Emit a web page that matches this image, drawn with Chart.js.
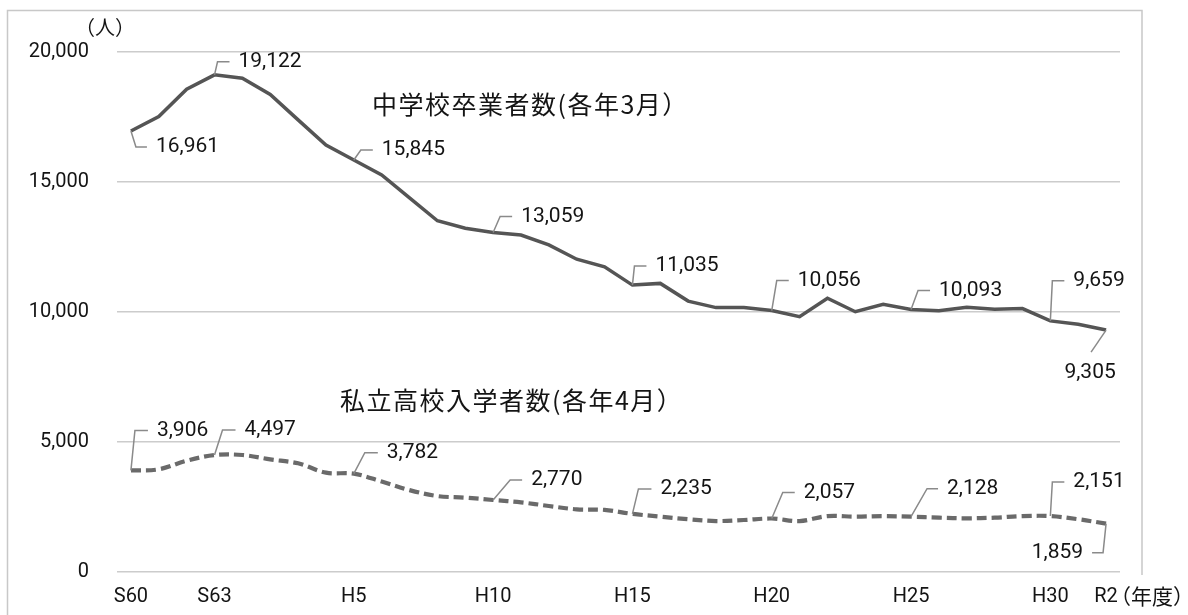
<!DOCTYPE html>
<html><head><meta charset="utf-8">
<script src="https://cdn.jsdelivr.net/npm/chart.js@4.4.0/dist/chart.umd.min.js"></script>
<style>html,body{margin:0;padding:0;background:#fff;}canvas{display:block;}</style>
</head><body>
<canvas id="c" width="1188" height="615" style="width:1188px;height:615px"></canvas>
<script>
// ---- data ----
const years = ['S60','S61','S62','S63','H1','H2','H3','H4','H5','H6','H7','H8','H9','H10',
  'H11','H12','H13','H14','H15','H16','H17','H18','H19','H20','H21','H22','H23','H24','H25',
  'H26','H27','H28','H29','H30','R1','R2'];
const shownTicks = ['S60','S63','H5','H10','H15','H20','H25','H30','R2'];
const labeledYears = ['S60','S63','H5','H10','H15','H20','H25','H30','R2'];
const graduates = [16961,17520,18570,19122,18990,18370,17390,16420,15845,15270,14390,13510,13220,13059,
  12960,12580,12030,11740,11035,11100,10420,10170,10170,10056,9820,10530,10010,10300,10093,
  10050,10180,10110,10130,9659,9530,9305];
const enrollees = [3906,3950,4280,4497,4500,4330,4180,3820,3782,3480,3150,2920,2860,2770,
  2680,2540,2410,2390,2235,2130,2030,1960,2000,2057,1960,2150,2130,2150,2128,
  2090,2065,2090,2150,2151,2030,1859];
const seriesNames = ['中学校卒業者数(各年3月）','私立高校入学者数(各年4月）'];
const yUnit = '（人）';
const xUnit = '（年度）';

// ---- label leader styles (relative offsets) ----
const gradLeaders = [{ex:5,ey:16,h:11},{ex:3,ey:-13,h:12},{ex:7,ey:-10,h:12},{ex:7,ey:-16,h:12},
  {ex:2,ey:-19,h:12},{ex:5,ey:-30,h:12},{ex:7,ey:-19,h:12},{ex:2,ey:-40,h:12},{ex:-15,ey:22,h:0,below:true}];
const enrLeaders = [{ex:4,ey:-40,h:13},{ex:8,ey:-25,h:13},{ex:11,ey:-21,h:13},{ex:17,ey:-20,h:12},
  {ex:6,ey:-25,h:13},{ex:11,ey:-26,h:12},{ex:16,ey:-28,h:11},{ex:2,ey:-34,h:12},{ex:-3,ey:29,h:-11}];

const NUM_FONT = '21px Roboto';
const JP_FONT = '"Noto Sans CJK JP"';
const TEXT_COLOR = '#141414';
const fmt = v => v.toLocaleString('en-US');

const decor = {
  id:'decor',
  beforeDraw(chart){
    const ctx = chart.ctx;
    ctx.save();
    ctx.fillStyle='#fff'; ctx.fillRect(0,0,chart.width,chart.height);
    ctx.strokeStyle='#c8c8c8'; ctx.lineWidth=1.5;
    ctx.beginPath();
    ctx.moveTo(7.5,615); ctx.lineTo(7.5,10.5); ctx.lineTo(1142,10.5); ctx.lineTo(1142,575);
    ctx.stroke();
    ctx.restore();
  },
  afterDatasetsDraw(chart){
    const ctx = chart.ctx;
    ctx.save();
    const drawLabels = (dsIndex, leaders, values) => {
      const meta = chart.getDatasetMeta(dsIndex);
      labeledYears.forEach((yr, k) => {
        const i = years.indexOf(yr);
        const pt = meta.data[i];
        const L = leaders[k];
        const ex = pt.x + L.ex, ey = pt.y + L.ey;
        ctx.strokeStyle = '#8a8a8a'; ctx.lineWidth = 1.5;
        ctx.beginPath();
        ctx.moveTo(pt.x, pt.y); ctx.lineTo(ex, ey); ctx.lineTo(ex + L.h, ey);
        ctx.stroke();
        ctx.fillStyle = TEXT_COLOR; ctx.font = NUM_FONT; ctx.textBaseline = 'middle';
        if (L.below) {
          ctx.textAlign = 'center';
          ctx.fillText(fmt(values[i]), ex - 1, ey + 21);
        } else if (L.h >= 0) {
          ctx.textAlign = 'left';
          ctx.fillText(fmt(values[i]), ex + L.h + 9, ey);
        } else {
          ctx.textAlign = 'right';
          ctx.fillText(fmt(values[i]), ex + L.h - 9, ey);
        }
      });
    };
    drawLabels(0, gradLeaders, graduates);
    drawLabels(1, enrLeaders, enrollees);
    ctx.fillStyle = TEXT_COLOR; ctx.textBaseline = 'middle'; ctx.textAlign = 'left';
    ctx.font = '25px ' + JP_FONT;
    if ('letterSpacing' in ctx) ctx.letterSpacing = '1.5px';
    ctx.fillText(seriesNames[0], 372, 104);
    ctx.fillText(seriesNames[1], 340, 400);
    if ('letterSpacing' in ctx) ctx.letterSpacing = '0px';
    ctx.font = '20px ' + JP_FONT;
    ctx.fillText(yUnit, 75, 27);
    ctx.font = '21px ' + JP_FONT;
    ctx.fillText(xUnit, 1110, 596);
    ctx.restore();
  }
};

new Chart(document.getElementById('c'), {
  type:'line',
  data:{
    labels: years,
    datasets:[
      {label:seriesNames[0], data:graduates, borderColor:'#555555', borderWidth:3.5,
       pointRadius:0, tension:0, fill:false},
      {label:seriesNames[1], data:enrollees, borderColor:'#6a6a6a', borderWidth:4.2,
       borderDash:[10,5], pointRadius:0, tension:0.35, fill:false}
    ]
  },
  options:{
    responsive:false, animation:false, devicePixelRatio:1,
    layout:{padding:{left:0,top:52,right:68,bottom:0}},
    plugins:{legend:{display:false}, tooltip:{enabled:false}},
    scales:{
      x:{
        type:'category', offset:true,
        grid:{display:false, drawTicks:false}, border:{display:false},
        ticks:{autoSkip:false, maxRotation:0, minRotation:0, padding:13,
          color:TEXT_COLOR, font:{family:'Roboto', size:20},
          callback:function(v,i){ const l = years[i]; return shownTicks.includes(l) ? l : ''; }},
        afterFit(s){ s.height = 43; }
      },
      y:{
        min:0, max:20000,
        grid:{color:'#cccccc', lineWidth:1.5, drawTicks:false}, border:{display:false},
        ticks:{stepSize:5000, padding:28, color:TEXT_COLOR, font:{family:'Roboto', size:20},
          callback:v => fmt(v)},
        afterFit(s){ s.width = 117; }
      }
    }
  },
  plugins:[decor]
});
</script>
</body></html>
